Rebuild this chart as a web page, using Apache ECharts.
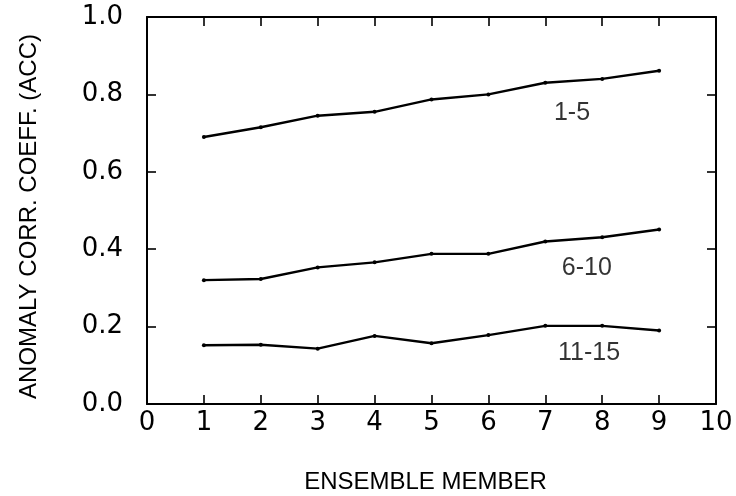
<!DOCTYPE html>
<html>
<head>
<meta charset="utf-8">
<script src="https://cdn.jsdelivr.net/npm/echarts@6/dist/echarts.min.js"></script>
<style>
  html, body { margin: 0; padding: 0; background: #fff; }
  #chart { width: 736px; height: 496px; }
</style>
</head>
<body>
<div id="chart"></div>
<script>
// Ensemble member index and anomaly correlation per forecast window (days)
const members = [1, 2, 3, 4, 5, 6, 7, 8, 9];
const acc1to5 = [0.690, 0.715, 0.745, 0.755, 0.787, 0.800, 0.830, 0.840, 0.861];
const acc6to10 = [0.320, 0.323, 0.353, 0.366, 0.388, 0.388, 0.420, 0.431, 0.451];
const acc11to15 = [0.152, 0.153, 0.143, 0.176, 0.157, 0.178, 0.202, 0.202, 0.190];

// Curve captions and where they sit, in data units
const captionText = ['1-5', '6-10', '11-15'];
const captionX = [7.47, 7.73, 7.77];
const captionY = [0.752, 0.351, 0.131];

const xTicks = [0, 1, 2, 3, 4, 5, 6, 7, 8, 9, 10];
const yTicks = ['0.0', '0.2', '0.4', '0.6', '0.8', '1.0'];

const tickFont = 'DejaVu Sans';
const textFont = 'Liberation Sans';
const ink = '#000';

function pairs(ys) {
  return members.map((m, i) => [m, ys[i]]);
}

function lineSeries(name, ys) {
  return {
    name: name,
    type: 'line',
    data: pairs(ys),
    symbol: 'circle',
    symbolSize: 4,
    showSymbol: true,
    itemStyle: { color: ink },
    lineStyle: { color: ink, width: 2.4 },
    silent: true,
    animation: false
  };
}

const chart = echarts.init(document.getElementById('chart'), null, { renderer: 'canvas' });

const tickStyle = { show: true, inside: true, length: 9, lineStyle: { color: ink, width: 1.6 } };
const frameLine = { show: true, onZero: false, lineStyle: { color: ink, width: 2 } };

chart.setOption({
  backgroundColor: '#fff',
  animation: false,
  grid: { left: 147, right: 20, top: 17, bottom: 92, show: false, containLabel: false, outerBoundsMode: 'none' },
  xAxis: [
    {
      type: 'value', min: xTicks[0], max: xTicks[xTicks.length - 1], interval: 1,
      position: 'bottom',
      axisLine: frameLine,
      axisTick: tickStyle,
      splitLine: { show: false },
      axisLabel: {
        margin: 6, fontFamily: tickFont, fontSize: 26, color: ink,
        formatter: v => String(v)
      },
      name: 'ENSEMBLE MEMBER', nameLocation: 'middle', nameGap: 66,
      nameTextStyle: { fontFamily: textFont, fontSize: 24, color: ink, padding: [0, 12, 0, 0] }
    },
    {
      type: 'value', min: xTicks[0], max: xTicks[xTicks.length - 1], interval: 1,
      position: 'top',
      axisLine: frameLine,
      axisTick: tickStyle,
      axisLabel: { show: false },
      splitLine: { show: false }
    }
  ],
  yAxis: [
    {
      type: 'value', min: 0, max: 1, interval: 0.2,
      position: 'left',
      axisLine: frameLine,
      axisTick: tickStyle,
      splitLine: { show: false },
      axisLabel: {
        margin: 24, fontFamily: tickFont, fontSize: 26, color: ink,
        formatter: (v) => yTicks[Math.round(v / 0.2)]
      },
      name: 'ANOMALY CORR. COEFF. (ACC)', nameLocation: 'middle', nameGap: 106,
      nameTextStyle: { fontFamily: textFont, fontSize: 24, color: ink, padding: [0, 12, 0, 0] }
    },
    {
      type: 'value', min: 0, max: 1, interval: 0.2,
      position: 'right',
      axisLine: frameLine,
      axisTick: tickStyle,
      axisLabel: { show: false },
      splitLine: { show: false }
    }
  ],
  series: [
    lineSeries('1-5', acc1to5),
    lineSeries('6-10', acc6to10),
    lineSeries('11-15', acc11to15),
    {
      type: 'scatter',
      symbol: 'circle',
      symbolSize: 0.1,
      silent: true,
      itemStyle: { color: '#fff' },
      data: captionText.map((t, i) => ({ value: [captionX[i], captionY[i]], name: t })),
      label: {
        show: true, position: [0, 0], align: 'center', verticalAlign: 'middle',
        formatter: p => p.name,
        fontFamily: textFont, fontSize: 25, color: ink, textBorderWidth: 0
      }
    }
  ]
});
</script>
</body>
</html>
